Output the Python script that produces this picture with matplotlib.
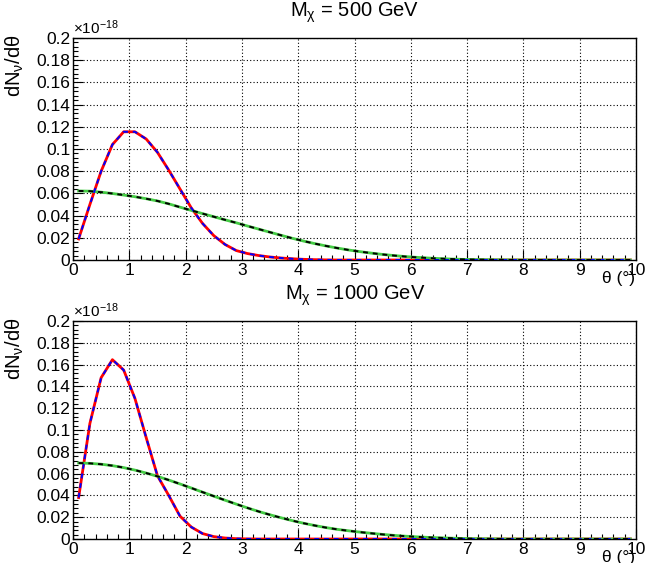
import numpy as np
import matplotlib
matplotlib.use("Agg")
import matplotlib.pyplot as plt
from matplotlib.ticker import MultipleLocator, FuncFormatter

plt.rcParams["font.family"] = ["Liberation Sans", "DejaVu Sans"]
plt.rcParams["mathtext.fontset"] = "custom"
plt.rcParams["mathtext.rm"] = "Liberation Sans"
plt.rcParams["mathtext.it"] = "Liberation Sans:italic"

# bin centres, theta in degrees
theta = [0.1, 0.3, 0.5, 0.7, 0.9, 1.1, 1.3, 1.5, 1.7, 1.9,
         2.1, 2.3, 2.5, 2.7, 2.9, 3.1, 3.3, 3.5, 3.7, 3.9,
         4.1, 4.3, 4.5, 4.7, 4.9, 5.1, 5.3, 5.5, 5.7, 5.9,
         6.1, 6.3, 6.5, 6.7, 6.9, 7.1, 7.3, 7.5, 7.7, 7.9,
         8.1, 8.3, 8.5, 8.7, 8.9, 9.1, 9.3, 9.5, 9.7, 9.9]

# dN/dtheta in units of 1e-18
peak_500 = [0.019, 0.050, 0.080, 0.104, 0.1155, 0.1155, 0.109, 0.097, 0.081, 0.064,
            0.047, 0.033, 0.022, 0.014, 0.0085, 0.0058, 0.004, 0.0027, 0.0018, 0.0011,
            0.0006, 0.0003, 0.0001, 0, 0, 0, 0, 0, 0, 0,
            0, 0, 0, 0, 0, 0, 0, 0, 0, 0,
            0, 0, 0, 0, 0, 0, 0, 0, 0, 0]
broad_500 = [0.0622, 0.0620, 0.0611, 0.0599, 0.0585, 0.0570, 0.0552, 0.0532, 0.0506, 0.0476,
             0.0447, 0.0418, 0.0390, 0.0362, 0.0335, 0.0306, 0.0278, 0.0250, 0.0222, 0.0195,
             0.0170, 0.0147, 0.0126, 0.0107, 0.0090, 0.0075, 0.0062, 0.0050, 0.0040, 0.0031,
             0.0024, 0.0018, 0.0013, 0.0009, 0.0006, 0.0004, 0.0003, 0.0002, 0.0001, 0,
             0, 0, 0, 0, 0, 0, 0, 0, 0, 0]

peak_1000 = [0.038, 0.106, 0.148, 0.1645, 0.155, 0.129, 0.093, 0.058, 0.040, 0.021,
             0.011, 0.005, 0.0022, 0.0009, 0.0003, 0.0001, 0, 0, 0, 0,
             0, 0, 0, 0, 0, 0, 0, 0, 0, 0,
             0, 0, 0, 0, 0, 0, 0, 0, 0, 0,
             0, 0, 0, 0, 0, 0, 0, 0, 0, 0]
broad_1000 = [0.0697, 0.0694, 0.0686, 0.0673, 0.0655, 0.0632, 0.0605, 0.0575, 0.0541, 0.0505,
              0.0468, 0.0430, 0.0393, 0.0356, 0.0320, 0.0285, 0.0252, 0.0222, 0.0194, 0.0168,
              0.0144, 0.0123, 0.0104, 0.0088, 0.0075, 0.0063, 0.0052, 0.0042, 0.0033, 0.0026,
              0.0020, 0.0015, 0.0011, 0.0008, 0.0005, 0.0003, 0.0002, 0.0001, 0, 0,
              0, 0, 0, 0, 0, 0, 0, 0, 0, 0]

titles = ["M$_{\\mathrm{χ}}$ = 500 GeV", "M$_{\\mathrm{χ}}$ = 1000 GeV"]

W, H = 658, 563
fig = plt.figure(figsize=(W / 100, H / 100), dpi=100)


def px_axes(left, top, right, bottom):
    return fig.add_axes([left / W, 1 - bottom / H, (right - left) / W, (bottom - top) / H])


panels = [
    (px_axes(73, 38, 636, 260), peak_500, broad_500, titles[0], 38, 260),
    (px_axes(73, 321, 636, 539), peak_1000, broad_1000, titles[1], 321, 539),
]

for ax, peak, broad, title, top, bot in panels:
    ax.plot(theta, peak, color="red", lw=2.0, zorder=3)
    ax.plot(theta, peak, color="blue", lw=1.4, ls=(0, (2.5, 2.5)), zorder=4)
    ax.plot(theta, broad, color="#44cc44", lw=2.0, zorder=3)
    ax.plot(theta, broad, color="black", lw=1.4, ls=(0, (2.5, 2.5)), zorder=4)

    ax.set_xlim(0, 10)
    ax.set_ylim(0, 0.2)
    ax.xaxis.set_major_locator(MultipleLocator(1))
    ax.xaxis.set_minor_locator(MultipleLocator(0.2))
    ax.yaxis.set_major_locator(MultipleLocator(0.02))
    ax.yaxis.set_minor_locator(MultipleLocator(0.004))
    ax.yaxis.set_major_formatter(FuncFormatter(lambda v, p: f"{round(v, 3):g}"))
    ax.xaxis.set_major_formatter(FuncFormatter(lambda v, p: f"{v:g}"))
    ax.tick_params(which="both", direction="in", top=False, right=False,
                   labelsize=12.5, width=0.8, color="black")
    ax.tick_params(which="major", length=7, pad=2)
    ax.tick_params(which="minor", length=3.5)
    ax.grid(True, which="major", color="black", ls=(0, (1, 2)), lw=0.8)
    for s in ax.spines.values():
        s.set_linewidth(1.0)

    fig.text(355 / W, 1 - (top - 25) / H, title, ha="center", va="center", fontsize=14.5)
    fig.text(73 / W, 1 - (top - 1) / H, "×10$^{-18}$", ha="left", va="bottom", fontsize=11)
    fig.text(15 / W, 1 - (top - 3) / H, "dN$_{\\mathrm{ν}}$/dθ", ha="center", va="top",
             rotation=90, fontsize=14.5)
    fig.text(635 / W, 1 - (bot + 11) / H, "θ (°)", ha="right", va="top", fontsize=12.5)

fig.savefig("out.png", dpi=100)
